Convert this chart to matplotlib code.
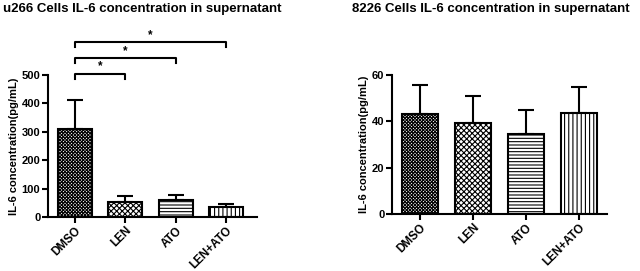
import numpy as np
import matplotlib
matplotlib.use('Agg')
import matplotlib.pyplot as plt

plt.rcParams['font.family'] = ['Liberation Sans', 'DejaVu Sans']
plt.rcParams['font.weight'] = 'bold'
plt.rcParams['hatch.linewidth'] = 0.8
plt.rcParams['hatch.color'] = 'black'

groups = ['DMSO', 'LEN', 'ATO', 'LEN+ATO']
hatches = ['xxxxxxxxxx', 'xxxxxx', '-----', '||||']

u266_mean = [309, 54, 61, 35]
u266_err = [104, 19, 17, 10]
u266_pairs = [(0, 1), (0, 2), (0, 3)]
u266_bracket_y = [505, 560, 616]

r8226_mean = [43.2, 39.3, 34.4, 43.7]
r8226_err = [12.3, 11.7, 10.6, 11.1]

fig = plt.figure(figsize=(6.4, 2.71), dpi=100)


def draw_panel(ax, means, errs, ymax, yticks):
    x = np.arange(len(groups))
    ax.errorbar(x, means, yerr=[np.zeros(len(errs)), errs], fmt='none',
                ecolor='black', elinewidth=1.5, capsize=6, capthick=1.5, zorder=1)
    for xi, m, h in zip(x, means, hatches):
        ax.bar(xi, m, width=0.68, color='white', edgecolor='black',
               linewidth=1.5, hatch=h, zorder=2)
    ax.set_ylim(0, ymax)
    ax.set_yticks(yticks)
    ax.set_xticks(x)
    ax.set_xticklabels(groups, rotation=45, ha='right', rotation_mode='anchor')
    ax.spines['top'].set_visible(False)
    ax.spines['right'].set_visible(False)
    for s in ['left', 'bottom']:
        ax.spines[s].set_linewidth(1.5)
    ax.tick_params(width=1.5, length=4, labelsize=8, pad=1.5)
    ax.tick_params(axis='x', labelsize=8.5)
    ax.set_ylabel('IL-6 concentration(pg/mL)', fontsize=8, fontweight='bold', labelpad=2)


ax1 = fig.add_axes([0.075, 0.1993, 0.3266, 0.524])
draw_panel(ax1, u266_mean, u266_err, 500, [0, 100, 200, 300, 400, 500])
ax1.set_xlim(-0.54, 3.62)
for (a, b), yb in zip(u266_pairs, u266_bracket_y):
    ax1.plot([a, a, b, b], [yb - 18, yb, yb, yb - 18], color='black',
             linewidth=1.5, clip_on=False)
    ax1.text((a + b) / 2, yb + 4, '*', ha='center', va='bottom', fontsize=8.5)

ax2 = fig.add_axes([0.6125, 0.2103, 0.336, 0.513])
draw_panel(ax2, r8226_mean, r8226_err, 60, [0, 20, 40, 60])
ax2.set_xlim(-0.53, 3.53)

fig.text(3 / 640, 1 - 3 / 271, 'u266 Cells IL-6 concentration in supernatant',
         ha='left', va='top', fontsize=9.5, fontweight='bold')
fig.text(491 / 640, 1 - 3 / 271, '8226 Cells IL-6 concentration in supernatant',
         ha='center', va='top', fontsize=9.5, fontweight='bold')

fig.savefig('out.png', dpi=100)
